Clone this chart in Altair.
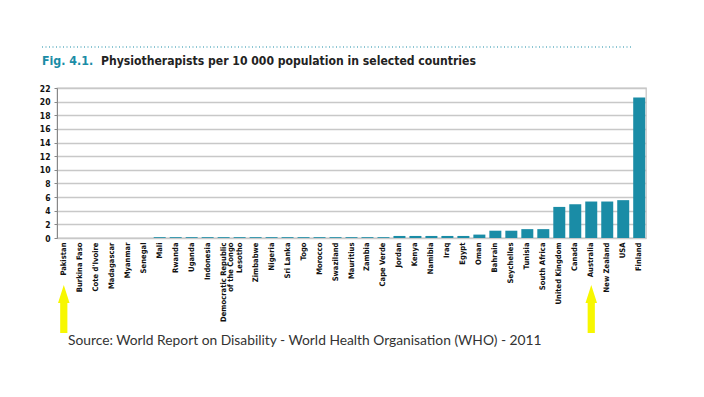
import altair as alt
import pandas as pd

countries = ["Pakistan", "Burkina Faso", "Cote d'Ivoire", "Madagascar", "Myanmar", "Senegal",
             "Mali", "Rwanda", "Uganda", "Indonesia", "Democratic Republic\nof the Congo", "Lesotho",
             "Zimbabwe", "Nigeria", "Sri Lanka", "Togo", "Morocco", "Swaziland", "Mauritius",
             "Zambia", "Cape Verde", "Jordan", "Kenya", "Namibia", "Iraq", "Egypt", "Oman",
             "Bahrain", "Seychelles", "Tunisia", "South Africa", "United Kingdom", "Canada",
             "Australia", "New Zealand", "USA", "Finland"]
values = [0.0, 0.0, 0.0, 0.0, 0.0, 0.0,
          0.12, 0.12, 0.12, 0.12, 0.12, 0.12,
          0.12, 0.12, 0.12, 0.12, 0.12, 0.12, 0.12,
          0.12, 0.12, 0.3, 0.3, 0.3, 0.3, 0.3, 0.5,
          1.07, 1.07, 1.3, 1.3, 4.56, 4.95,
          5.35, 5.35, 5.55, 20.6]
y_ticks = [0, 2, 4, 6, 8, 10, 12, 14, 16, 18, 20, 22]
arrow_countries = ["Pakistan", "Australia"]

title_fig = "Fig. 4.1."
title_text = "Physiotherapists per 10 000 population in selected countries"
source_text = "Source: World Report on Disability - World Health Organisation (WHO) - 2011"

TEAL = "#1a8ca6"
COND = "Liberation Sans Narrow, DejaVu Sans Condensed, Arial Narrow, sans-serif"
ARROW = "M0,-1L0.24,-0.25L0.15,-0.25L0.15,1L-0.15,1L-0.15,-0.25L-0.24,-0.25Z"

df = pd.DataFrame({"country": countries, "value": values})
arrows = pd.DataFrame({"country": arrow_countries})

x_enc = alt.X("country:N", sort=countries, title=None,
              scale=alt.Scale(paddingInner=0.25, paddingOuter=0.05),
              axis=alt.Axis(labelAngle=-90, labelFont=COND, labelFontSize=7.6, labelFontWeight="bold",
                            labelColor="#111", ticks=False, domain=False, labelPadding=4,
                            labelExpr="split(datum.value, '\\n')", labelLineHeight=7.5))

bars = alt.Chart(df).mark_bar(color=TEAL).encode(
    x=x_enc,
    y=alt.Y("value:Q", title=None, scale=alt.Scale(domain=[0, 22], nice=False),
            axis=alt.Axis(values=y_ticks, labelFont=COND, labelFontSize=8.5, labelFontWeight="bold",
                          labelColor="#111", tickSize=3, tickColor="#888", domainColor="#888",
                          gridColor="#c8c8c8", gridWidth=1.3, labelPadding=4))
)

arrow = alt.Chart(arrows).mark_point(shape=ARROW, filled=True, color="#f7f700",
                                     size=2304, opacity=1, strokeWidth=0).encode(
    x=alt.X("country:N", sort=countries), y=alt.value(221))

dots = alt.Chart(pd.DataFrame({"a": [0]})).mark_rule(color=TEAL, strokeDash=[1, 2.5], strokeWidth=1.2).encode(
    x=alt.value(-15), x2=alt.value(575), y=alt.value(-41))

fig_lbl = alt.Chart(pd.DataFrame({"t": [title_fig]})).mark_text(
    font=COND, fontSize=12.3, fontWeight="bold", color=TEAL, align="left", baseline="alphabetic").encode(
    text="t:N", x=alt.value(-15), y=alt.value(-23))
title_lbl = alt.Chart(pd.DataFrame({"t": [title_text]})).mark_text(
    font=COND, fontSize=12.1, fontWeight="bold", color="#222", align="left", baseline="alphabetic").encode(
    text="t:N", x=alt.value(44), y=alt.value(-23))
src_lbl = alt.Chart(pd.DataFrame({"t": [source_text]})).mark_text(
    font="Lato, sans-serif", fontSize=13.8, color="#333", align="left", baseline="middle").encode(
    text="t:N", x=alt.value(11), y=alt.value(253))

chart = alt.layer(bars, arrow, dots, fig_lbl, title_lbl, src_lbl).properties(
    width=589, height=150,
    autosize=alt.AutoSizeParams(type="none"),
    padding={"left": 49, "top": 80, "right": 50, "bottom": 151},
    background="white"
).configure_view(stroke="#c8c8c8", strokeWidth=1.3)

chart.save("out.html", embed_options={"renderer": "svg", "actions": False})
